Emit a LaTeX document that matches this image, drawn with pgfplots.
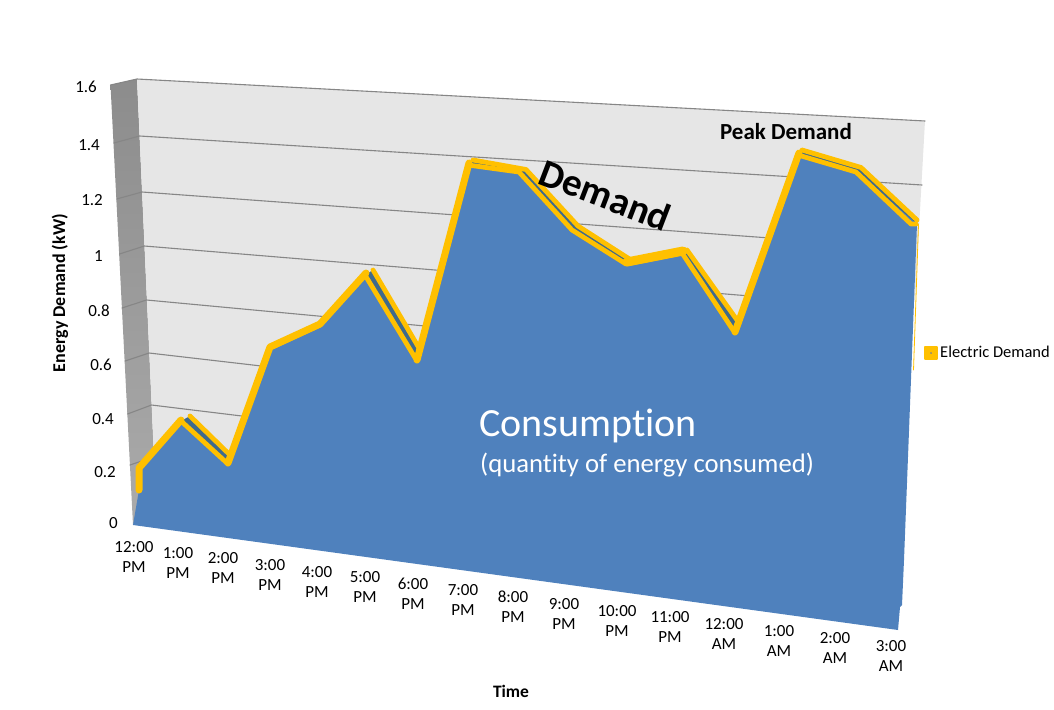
\documentclass[border=0pt]{standalone}
\usepackage{fontspec}
\setmainfont{Carlito}[Ligatures=NoCommon]
\usepackage{pgfplots}
\pgfplotsset{compat=1.18}
\definecolor{wall}{HTML}{E6E6E6}
\definecolor{gridc}{HTML}{868686}
\definecolor{area}{HTML}{4F81BD}
\definecolor{topface}{HTML}{3F6A8C}
\definecolor{demand}{HTML}{FFC000}
\newcommand{\fs}[1]{\fontsize{#1}{#1}\selectfont}
\tikzset{
  gridl/.style={draw=gridc, line width=1.1pt},
  yell/.style={draw=demand, line width=4.8pt},
  yellw/.style={draw=demand, line width=7pt},
  face/.style={fill=topface, draw=none},
  ticklab/.style={font=\fs{17}, inner sep=0pt},
  xlab/.style={font=\fs{17}, inner sep=0pt, align=center},
}
\begin{document}
\begin{tikzpicture}
\useasboundingbox (0,0) rectangle (1054pt,709pt);
\begin{axis}[
  at={(0,0)}, anchor=south west,
  x=1pt, y=1pt, y dir=reverse,
  xmin=0, xmax=1054, ymin=0, ymax=709,
  hide axis, clip=false,
  every axis plot/.append style={line join=round, line cap=round},
]
% side wall and back wall
\addplot[draw=none, top color=black!45, bottom color=black!33] coordinates {(110.5,85) (137,79) (154,457) (155,480) (133,525)} -- cycle;
\addplot[fill=wall, draw=none] coordinates {(137,79) (925,121) (915,300) (155,480)} -- cycle;
% gridlines, back wall then side wall
\addplot[gridl] coordinates {(110.5,85) (137,79) (925,121)};
\addplot[gridl] coordinates {(114,143) (139.5,136) (922,185)};
\addplot[gridl] coordinates {(116.7,199) (142,192) (770,238)};
\addplot[gridl] coordinates {(119.5,254) (144.3,246) (750,296)};
\addplot[gridl] coordinates {(122,308) (146.5,300) (425,326)};
\addplot[gridl] coordinates {(125,361) (149,353) (270,367)};
\addplot[gridl] coordinates {(127.5,414) (151.5,405) (250,417)};
\addplot[gridl] coordinates {(130,465) (153.7,457)};
% back edge and top face of the 3-D ribbon
\addplot[face] coordinates {(190,416) (231,456) (228,464) (181,421)} -- cycle;
\addplot[face] coordinates {(373,270) (419,348) (417,361) (365,275)} -- cycle;
\addplot[face] coordinates {(473,160) (526,169.5) (578,226) (631,260) (626,264) (572,230) (519,172) (468,165)} -- cycle;
\addplot[face] coordinates {(687,250) (737,320) (735,333) (682,253)} -- cycle;
\addplot[face] coordinates {(802,150) (861,167.5) (917,220) (911,224) (856,172) (798,155)} -- cycle;
\addplot[yell] coordinates {(190,416) (231,456)};
\addplot[yell] coordinates {(373,270) (419,348)};
\addplot[yell] coordinates {(473,160) (526,169.5) (578,226) (631,260)};
\addplot[yell] coordinates {(687,250) (737,320)};
\addplot[yell] coordinates {(802,150) (861,167.5) (917,220)};
% consumption area
\addplot[fill=area, draw=none] coordinates {
  (133,525) (139,490) (139,468) (181,421) (228,464) (270,348) (320,325) (365,275)
  (417,361) (468,165) (519,172) (572,230) (626,264) (682,253) (735,333) (798,155)
  (856,172) (917,224) (904,560) (902,605) (900,607) (898,630)} -- cycle;
\addplot[draw=demand, line width=0.8pt] coordinates {(918.5,224) (913.5,370)};
% demand line, front edge
\addplot[yell] coordinates {
  (139,490) (139,468) (181,421) (228,464) (270,348) (320,325) (365,275) (417,361)
  (468,165) (519,172) (572,230) (626,264) (682,253) (735,333) (798,155) (856,172) (911,224) (916,224)};
% rising stretches read wider, the back edge merges with the front one
\addplot[yellw] coordinates {(139,490) (139,468) (181,420)};
\addplot[yellw] coordinates {(228,463) (270,347) (320,324) (366,273)};
\addplot[yellw] coordinates {(417,360) (469,163)};
\addplot[draw=demand, line width=9pt] coordinates {(627,262) (683,251)};
\addplot[yellw] coordinates {(735,332) (799,153)};
% legend key
\addplot[only marks, mark=square*, mark size=6.2pt, mark options={draw=demand, fill=demand, line width=2pt, line join=round}] coordinates {(931,353)};
\addplot[only marks, mark=*, mark size=0.7pt, mark options={draw=gridc, fill=gridc}] coordinates {(931,353)};
\node[anchor=west, inner sep=0pt, font=\fs{16.5}] at (axis cs:940,352) {Electric Demand};
% value axis
\node[ticklab, anchor=east] at (axis cs:97,87) {1.6};
\node[ticklab, anchor=east] at (axis cs:100,145) {1.4};
\node[ticklab, anchor=east] at (axis cs:103,200) {1.2};
\node[ticklab, anchor=east] at (axis cs:103,256) {1};
\node[ticklab, anchor=east] at (axis cs:110,311) {0.8};
\node[ticklab, anchor=east] at (axis cs:112,365) {0.6};
\node[ticklab, anchor=east] at (axis cs:114,419) {0.4};
\node[ticklab, anchor=east] at (axis cs:116,472) {0.2};
\node[ticklab, anchor=east] at (axis cs:118,523) {0};
% time axis
\node[xlab] at (axis cs:134,557) {12:00\\[3pt]PM};
\node[xlab] at (axis cs:178,563) {1:00\\[3pt]PM};
\node[xlab] at (axis cs:223,568) {2:00\\[3pt]PM};
\node[xlab] at (axis cs:270,575) {3:00\\[3pt]PM};
\node[xlab] at (axis cs:317,582) {4:00\\[3pt]PM};
\node[xlab] at (axis cs:365,587) {5:00\\[3pt]PM};
\node[xlab] at (axis cs:413,594) {6:00\\[3pt]PM};
\node[xlab] at (axis cs:463,600) {7:00\\[3pt]PM};
\node[xlab] at (axis cs:513,607) {8:00\\[3pt]PM};
\node[xlab] at (axis cs:564,614) {9:00\\[3pt]PM};
\node[xlab] at (axis cs:617,621) {10:00\\[3pt]PM};
\node[xlab] at (axis cs:670,627) {11:00\\[3pt]PM};
\node[xlab] at (axis cs:724,634) {12:00\\[3pt]AM};
\node[xlab] at (axis cs:779,641) {1:00\\[3pt]AM};
\node[xlab] at (axis cs:835,648) {2:00\\[3pt]AM};
\node[xlab] at (axis cs:891,656) {3:00\\[3pt]AM};
% titles and annotations
\node[rotate=90, inner sep=0pt, font=\fs{18}\bfseries] at (axis cs:60,293) {Energy Demand\ (kW)};
\node[inner sep=0pt, font=\fs{17.5}\bfseries] at (axis cs:511,691) {Time};
\node[inner sep=0pt, font=\fs{23}\bfseries] at (axis cs:786,132) {Peak Demand};
\node[rotate=-21, inner sep=0pt, font=\fs{39}\bfseries] at (axis cs:605,195) {Demand};
\node[anchor=base west, inner sep=0pt, text=white, font=\fs{40}] at (axis cs:479,436) {Consumption};
\node[anchor=base west, inner sep=0pt, text=white, font=\fs{26.7}] at (axis cs:480,472) {(quantity of energy consumed)};
\end{axis}
\end{tikzpicture}
\end{document}
